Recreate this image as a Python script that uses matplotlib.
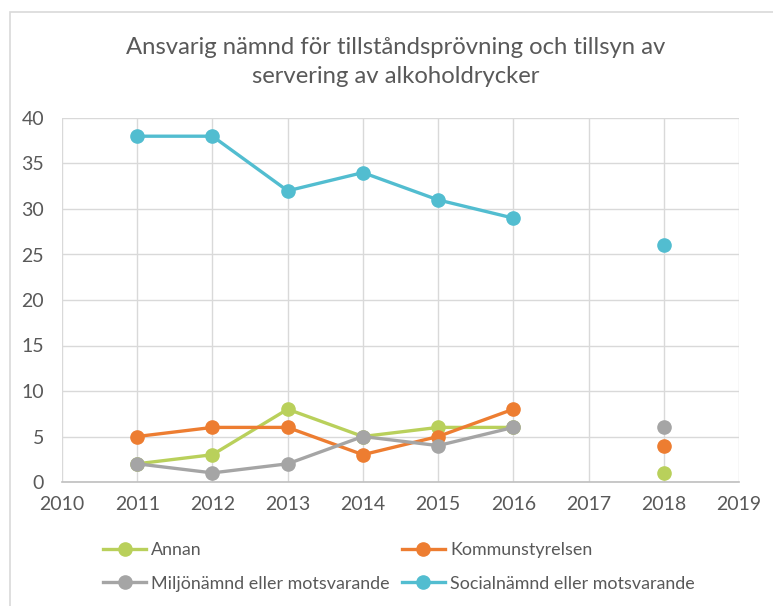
import numpy as np
import matplotlib

matplotlib.use("Agg")
import matplotlib.pyplot as plt
from matplotlib.patches import Rectangle

plt.rcParams["font.family"] = ["Lato", "DejaVu Sans"]

years = [2011, 2012, 2013, 2014, 2015, 2016, 2017, 2018]
annan = [2, 3, 8, 5, 6, 6, np.nan, 1]
kommunstyrelsen = [5, 6, 6, 3, 5, 8, np.nan, 4]
miljo = [2, 1, 2, 5, 4, 6, np.nan, 6]
social = [38, 38, 32, 34, 31, 29, np.nan, 26]

series = [
    ("Annan", annan, "#B9D05B"),
    ("Kommunstyrelsen", kommunstyrelsen, "#ED7D31"),
    ("Miljönämnd eller motsvarande", miljo, "#A5A5A5"),
    ("Socialnämnd eller motsvarande", social, "#52BDD0"),
]

text_col = "#595959"
grid_col = "#D9D9D9"

fig = plt.figure(figsize=(7.73, 6.06), dpi=100)
# chart frame (partly outside the picture)
fig.patches.append(Rectangle((10 / 773, -0.1), 1.0, (606 - 12) / 606 + 0.1,
                             transform=fig.transFigure, fill=False,
                             edgecolor=grid_col, linewidth=1.2))

ax = fig.add_axes([62 / 773, 124 / 606, (739 - 62) / 773, (482 - 118) / 606])
handles = []
for name, vals, col in series:
    h, = ax.plot(years, vals, color=col, linewidth=2.4, marker="o",
                 markersize=9.5, label=name, clip_on=False, zorder=3)
    handles.append(h)

ax.set_xlim(2010, 2019)
ax.set_ylim(0, 40)
ax.set_xticks(range(2010, 2020))
ax.set_yticks(range(0, 41, 5))
ax.grid(True, color=grid_col, linewidth=1)
ax.set_axisbelow(True)
for s in ["top", "right", "left"]:
    ax.spines[s].set_visible(False)
ax.spines["bottom"].set_color("#BFBFBF")
ax.spines["bottom"].set_linewidth(1.2)
ax.tick_params(length=0, labelsize=14, colors=text_col, pad=10)
ax.tick_params(axis="y", pad=13)

fig.text(396 / 773, 1 - 62 / 606,
         "Ansvarig nämnd för tillståndsprövning och tillsyn av\nservering av alkoholdrycker",
         ha="center", va="center", fontsize=17.2, color=text_col, linespacing=1.5)

# Excel fills the legend row by row
order = [handles[0], handles[2], handles[1], handles[3]]
fig.legend(order, [h.get_label() for h in order], ncol=2,
           loc="center left", bbox_to_anchor=(103 / 773, 1 - 567 / 606),
           frameon=False, fontsize=12.9, labelcolor=text_col,
           borderpad=0, borderaxespad=0,
           handlelength=2.4, handletextpad=0.3, columnspacing=0.65,
           labelspacing=0.95)

fig.savefig("out.png", dpi=100)
